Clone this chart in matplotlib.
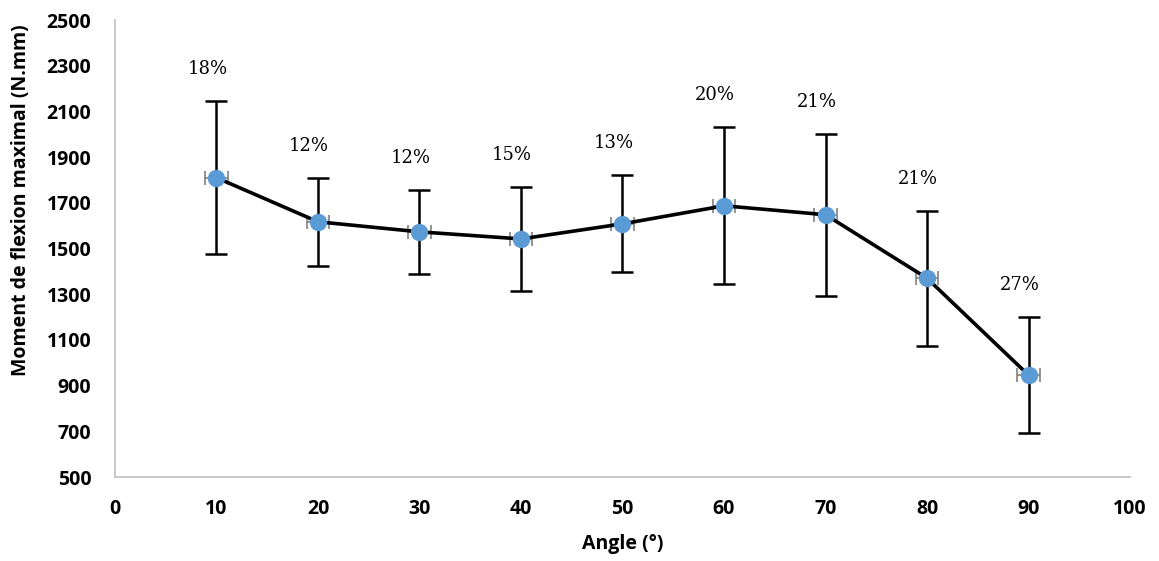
"""Moment de flexion maximal en fonction de l'angle."""

import matplotlib

matplotlib.use("Agg")
import matplotlib.pyplot as plt

angles = [10, 20, 30, 40, 50, 60, 70, 80, 90]
moment = [1810, 1617, 1573, 1542, 1608, 1687, 1648, 1370, 946]
moment_err = [334, 193, 184, 228, 212, 343, 354, 295, 254]
angle_err = [1.1] * len(angles)
cv_labels = ["18%", "12%", "12%", "15%", "13%", "20%", "21%", "21%", "27%"]

x_ticks = list(range(0, 101, 10))
y_ticks = list(range(500, 2501, 200))

BLUE = "#5B9BD5"
GRID_GREY = "#BFBFBF"
TICK_FONT = "Open Sans"


def main() -> None:
    fig = plt.figure(figsize=(11.59, 5.61), dpi=100)
    ax = fig.add_axes([0.0992, 0.1497, 0.8758, 0.8146])

    # horizontal error bars (tiny, grey)
    ax.errorbar(angles, moment, xerr=angle_err, fmt="none", ecolor="#808080",
                elinewidth=1.2, capsize=5, capthick=1.2, zorder=2)
    # vertical error bars
    ax.errorbar(angles, moment, yerr=moment_err, fmt="none", ecolor="black",
                elinewidth=1.8, capsize=8, capthick=1.8, zorder=3)
    ax.plot(angles, moment, color="black", linewidth=2.6, zorder=4)
    ax.plot(angles, moment, linestyle="none", marker="o", markersize=11.5,
            markerfacecolor=BLUE, markeredgecolor=BLUE, zorder=5)

    for x, y, err, lab in zip(angles, moment, moment_err, cv_labels):
        ax.annotate(lab, xy=(x, y + err), xytext=(-6.5, 23),
                    textcoords="offset points", ha="center", va="center",
                    fontsize=13, family="DejaVu Serif", color="black")

    ax.set_xlim(0, 100)
    ax.set_ylim(500, 2500)
    ax.set_xticks(x_ticks)
    ax.set_yticks(y_ticks)
    ax.tick_params(length=0, labelsize=14, pad=17)
    ax.tick_params(axis="x", pad=16)
    for lab in ax.get_xticklabels() + ax.get_yticklabels():
        lab.set_fontweight("bold")
        lab.set_family(TICK_FONT)

    for side in ("top", "right"):
        ax.spines[side].set_visible(False)
    for side in ("left", "bottom"):
        ax.spines[side].set_color(GRID_GREY)
        ax.spines[side].set_linewidth(1.2)

    ax.set_xlabel("Angle (°)", fontsize=14, fontweight="bold", family=TICK_FONT)
    ax.set_ylabel("Moment de flexion maximal (N.mm)", fontsize=14,
                  fontweight="bold", family=TICK_FONT, va="center")
    ax.xaxis.set_label_coords(0.5, -0.125)
    ax.yaxis.set_label_coords(-0.0926, 0.606)

    fig.savefig("out.png", dpi=100)


if __name__ == "__main__":
    main()
